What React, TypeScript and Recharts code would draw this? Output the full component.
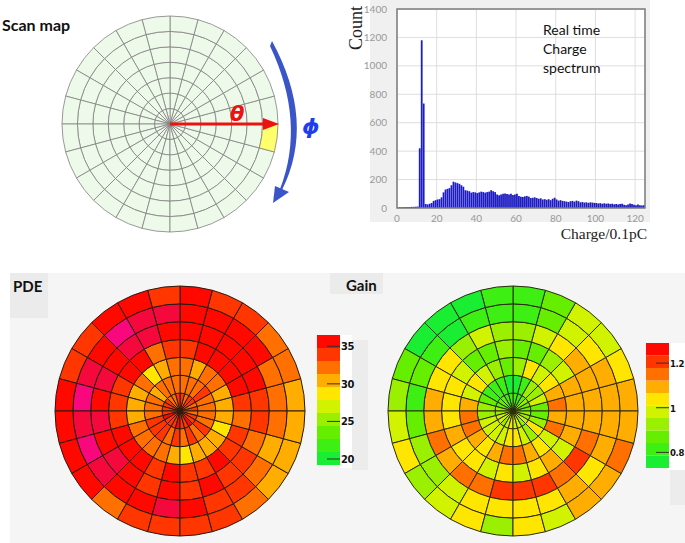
import React from 'react'
import { PieChart, Pie, Cell, BarChart, Bar, XAxis, YAxis, CartesianGrid } from 'recharts'

const RINGS = 7

// charge spectrum, one count per 0.1pC bin, bins 0..124
const chargeCounts = [
  4, 5, 5, 6, 6, 7, 7, 8, 8, 9, 10, 420, 1180, 735, 28, 25, 30, 35, 50, 55,
  60, 62, 75, 110, 130, 135, 140, 160, 185, 180, 175, 170, 160, 150, 125, 122, 118, 108, 112, 110,
  105, 110, 115, 112, 108, 112, 115, 125, 118, 112, 95, 90, 95, 100, 102, 98, 95, 100, 92, 95,
  100, 85, 80, 78, 82, 85, 80, 70, 72, 75, 70, 65, 68, 60, 62, 58, 62, 55, 65, 72,
  60, 52, 55, 50, 48, 45, 42, 48, 50, 45, 52, 48, 40, 42, 38, 40, 36, 40, 38, 36,
  35, 32, 34, 30, 33, 30, 32, 28, 30, 26, 28, 25, 28, 30, 22, 20, 25, 32, 28, 22,
  20, 25, 20, 18, 20,
]
const chargeTicks = [0, 20, 40, 60, 80, 100, 120]
const countTicks = [0, 200, 400, 600, 800, 1000, 1200, 1400]

// PDE (%) per pixel, rings from centre outwards, sectors counter-clockwise from 3 o'clock
const pdeRing0 = [33.9, 32.2, 33.9, 33.9, 32.2, 33.9, 33.9, 32.2, 32.2, 33.9, 33.9, 33.9, 33.9, 35.6, 33.9, 33.9, 33.9, 35.6, 33.9, 33.9, 35.6, 33.9, 33.9, 32.2]
const pdeRing1 = [32.2, 32.2, 33.9, 32.2, 32.2, 32.2, 32.2, 32.2, 32.2, 30.4, 32.2, 32.2, 32.2, 33.9, 33.9, 33.9, 32.2, 33.9, 32.2, 33.9, 32.2, 33.9, 32.2, 32.2]
const pdeRing2 = [30.4, 30.4, 32.2, 32.2, 30.4, 32.2, 32.2, 30.4, 28.7, 32.2, 30.4, 30.4, 30.4, 32.2, 32.2, 32.2, 32.2, 30.4, 28.7, 30.4, 30.4, 30.4, 28.7, 30.4]
const pdeRing3 = [33.9, 35.6, 35.6, 35.6, 35.6, 33.9, 33.9, 32.2, 35.6, 35.6, 33.9, 33.9, 33.9, 35.6, 35.6, 35.6, 33.9, 35.6, 33.9, 33.9, 35.6, 33.9, 33.9, 32.2]
const pdeRing4 = [33.9, 35.6, 35.6, 35.6, 35.6, 35.6, 35.6, 37.3, 37.3, 35.6, 37.3, 35.6, 37.3, 35.6, 37.3, 35.6, 33.9, 35.6, 33.9, 35.6, 33.9, 33.9, 32.2, 33.9]
const pdeRing5 = [32.2, 32.2, 35.6, 35.6, 35.6, 35.6, 37.3, 37.3, 39.0, 35.6, 37.3, 39.0, 37.3, 39.0, 37.3, 35.6, 35.6, 37.3, 35.6, 33.9, 33.9, 32.2, 30.4, 32.2]
const pdeRing6 = [30.4, 32.2, 32.2, 33.9, 33.9, 35.6, 33.9, 35.6, 35.6, 33.9, 33.9, 35.6, 35.6, 35.6, 35.6, 32.2, 33.9, 33.9, 33.9, 33.9, 32.2, 30.4, 30.4, 30.4]

// relative gain per pixel, same layout
const gainRing0 = [0.87, 0.87, 0.93, 0.87, 0.81, 0.81, 0.81, 0.81, 0.87, 0.87, 0.87, 0.93, 0.93, 0.98, 0.98, 0.93, 0.98, 1.04, 0.98, 0.98, 0.93, 0.98, 0.93, 0.93]
const gainRing1 = [0.87, 0.98, 0.93, 0.93, 0.81, 0.76, 0.76, 0.81, 0.81, 0.81, 0.87, 0.93, 0.93, 0.98, 0.98, 0.98, 0.98, 1.04, 1.04, 0.98, 0.93, 1.04, 0.93, 0.87]
const gainRing2 = [1.15, 1.09, 1.04, 0.98, 1.04, 0.93, 0.87, 0.93, 0.98, 1.04, 0.98, 1.09, 1.15, 1.15, 1.09, 1.04, 1.09, 1.15, 1.15, 1.09, 1.04, 0.98, 1.15, 1.09]
const gainRing3 = [1.09, 1.09, 0.98, 0.93, 0.87, 0.87, 0.93, 0.87, 0.87, 0.98, 1.04, 1.04, 1.04, 1.09, 1.04, 1.04, 0.98, 1.04, 0.98, 1.04, 1.09, 0.98, 1.09, 1.09]
const gainRing4 = [1.09, 1.09, 1.09, 1.04, 0.98, 0.93, 0.93, 0.98, 0.93, 1.04, 1.04, 1.09, 1.09, 1.15, 1.09, 1.15, 1.15, 1.21, 1.21, 1.21, 1.15, 1.21, 1.15, 1.09]
const gainRing5 = [1.09, 1.09, 1.04, 0.98, 0.87, 0.81, 0.81, 0.81, 0.76, 0.81, 0.87, 0.81, 0.87, 0.93, 0.93, 0.98, 1.04, 1.04, 1.04, 1.04, 1.09, 1.04, 1.09, 1.09]
const gainRing6 = [1.09, 1.04, 0.98, 0.98, 0.87, 0.81, 0.81, 0.76, 0.76, 0.76, 0.87, 0.93, 0.98, 1.04, 0.93, 0.98, 1.04, 0.93, 1.04, 0.98, 1.09, 1.09, 1.15, 1.09]

// scan map: 24 equal sectors per ring, one pixel highlighted
const scanSectors = [1, 1, 1, 1, 1, 1, 1, 1, 1, 1, 1, 1, 1, 1, 1, 1, 1, 1, 1, 1, 1, 1, 1, 1]
const scanHighlight = { ring: 6, sector: 23 }

const pdeTicks = [20, 25, 30, 35]
const gainTicks = [0.8, 1, 1.2]

const palette = ['#1aee33', '#3def12', '#66ee00', '#9bef00', '#d2f300', '#ffe600', '#ffae00', '#ff7000', '#ff3600', '#ff0800', '#f5083c', '#f8087c']
const pdeScale = { min: 19.2, step: 1.73 }
const gainScale = { min: 0.73, step: 0.056 }

function colorOf(v: number, s: { min: number; step: number }) {
  const k = Math.floor((v - s.min) / s.step)
  return palette[Math.max(0, Math.min(palette.length - 1, k))]
}

function PolarMap({ rings, fillOf, radius, stroke, strokeWidth }: any) {
  const size = radius * 2 + 6
  const c = size / 2
  return (
    <PieChart width={size} height={size} margin={{ top: 0, right: 0, bottom: 0, left: 0 }}>
      {rings.map((ring: number[], r: number) => (
        <Pie
          key={r}
          data={ring.map((v, i) => ({ id: i, size: 1, v }))}
          dataKey="size"
          cx={c}
          cy={c}
          innerRadius={(radius * r) / RINGS}
          outerRadius={(radius * (r + 1)) / RINGS}
          startAngle={0}
          endAngle={360}
          stroke={stroke}
          strokeWidth={strokeWidth}
          isAnimationActive={false}
        >
          {ring.map((v, i) => (
            <Cell key={i} fill={fillOf(v, r, i)} />
          ))}
        </Pie>
      ))}
    </PieChart>
  )
}

function ColorBar({ scale, ticks, height, labelSize }: any) {
  const row: any = { name: 'bar', base: scale.min }
  palette.slice(0, 10).forEach((_, k) => (row['b' + k] = scale.step))
  const max = scale.min + scale.step * 10
  const Tick = (p: any) => (
    <g>
      <line x1={p.x - 13} x2={p.x} y1={p.y} y2={p.y} stroke="#333" strokeWidth={1} />
      <text x={p.x + 1} y={p.y + 4} fontSize={labelSize} fontWeight={700} fontFamily="'Liberation Sans Narrow', 'DejaVu Sans Condensed', 'Liberation Sans', sans-serif" fill="#111" letterSpacing={-0.4}>
        {p.payload.value}
      </text>
    </g>
  )
  return (
    <BarChart width={53} height={height} data={[row]} margin={{ top: 0, right: 0, bottom: 0, left: 0 }} barCategoryGap={0}>
      <XAxis dataKey="name" hide />
      <YAxis orientation="right" width={30} domain={[scale.min, max]} ticks={ticks} interval={0} allowDataOverflow axisLine={false} tickLine={false} tickSize={0} tickMargin={0} tick={<Tick />} />
      <Bar dataKey="base" stackId="c" fill="transparent" isAnimationActive={false} />
      {palette.slice(0, 10).map((col, k) => (
        <Bar key={k} dataKey={'b' + k} stackId="c" fill={col} isAnimationActive={false} />
      ))}
    </BarChart>
  )
}

const abs = (left: number, top: number, extra: any = {}) => ({ position: 'absolute' as const, left, top, ...extra })

export default function App() {
  const histData = chargeCounts.map((n, i) => ({ x: i + 0.5, n }))
  const pdeRings = [pdeRing0, pdeRing1, pdeRing2, pdeRing3, pdeRing4, pdeRing5, pdeRing6]
  const gainRings = [gainRing0, gainRing1, gainRing2, gainRing3, gainRing4, gainRing5, gainRing6]
  const scanRings = [0, 1, 2, 3, 4, 5, 6].map(() => scanSectors)
  const sans = "Lato, 'Open Sans', sans-serif"
  const serif = "'Liberation Serif', 'Times New Roman', serif"

  return (
    <div style={{ position: 'absolute', left: 0, top: 0, width: 685, height: 543, background: '#fff', overflow: 'hidden', fontFamily: sans }}>
      {/* bottom panels background */}
      <div style={abs(10, 273, { width: 675, height: 270, background: '#f5f5f5' })} />
      <div style={abs(10, 273, { width: 38, height: 45, background: '#ebebeb' })} />
      <div style={abs(330, 273, { width: 53, height: 21, background: '#ebebeb' })} />
      <div style={abs(340, 335, { width: 12, height: 133, background: '#fff' })} />
      <div style={abs(352, 340, { width: 16, height: 130, background: '#ececec' })} />
      <div style={abs(668, 343, { width: 17, height: 127, background: '#fff' })} />
      <div style={abs(670, 470, { width: 15, height: 35, background: '#ececec' })} />

      {/* histogram panel background */}
      <div style={abs(370, 0, { width: 280, height: 222, background: '#f0f0f0' })} />

      {/* scan map */}
      <div style={{ ...abs(2, 15), fontSize: 16, fontWeight: 700, color: '#111' }}>Scan map</div>
      <div style={abs(170 - 111, 124 - 111)}>
        <PolarMap
          rings={scanRings}
          radius={108}
          stroke="#808080"
          strokeWidth={0.8}
          fillOf={(_v: number, r: number, i: number) => (r === scanHighlight.ring && i === scanHighlight.sector ? '#ffff6e' : '#eefae9')}
        />
      </div>
      <svg width={685} height={250} style={abs(0, 0, { pointerEvents: 'none' })}>
        <line x1={170} y1={124} x2={266} y2={124} stroke="#ee1111" strokeWidth={3} />
        <polygon points="263,118 279,124 263,130" fill="#ee1111" />
        <text x={230} y={121} fill="#ee1111" fontSize={21} fontStyle="italic" fontWeight={700} fontFamily="'DejaVu Sans', sans-serif">θ</text>
        <path d="M272,41 Q316,122 282,190 L280,189 Q306,122 270,46 Z" fill="#3a55c8" />
        <polygon points="273,203 275,186 289,192" fill="#3a55c8" />
        <text x={302} y={134} fill="#1e3cf0" fontSize={22} fontStyle="italic" fontWeight={700} fontFamily="'DejaVu Sans', sans-serif">ϕ</text>
      </svg>

      {/* charge spectrum */}
      <div style={abs(340, 0)}>
        <BarChart width={315} height={230} data={histData} margin={{ top: 9, right: 10, bottom: 4, left: 17 }}>
          <CartesianGrid stroke="#dedede" fill="#fff" />
          <XAxis type="number" dataKey="x" domain={[0, 125]} ticks={chargeTicks} height={18} axisLine={false} tickLine={false} tick={{ fill: '#999', fontSize: 10 }} tickMargin={1} />
          <YAxis type="number" domain={[0, 1400]} ticks={countTicks} width={40} axisLine={false} tickLine={false} tick={{ fill: '#999', fontSize: 10 }} tickMargin={4} />
          <Bar dataKey="n" fill="#1c1cc2" barSize={2.2} isAnimationActive={false} />
        </BarChart>
      </div>
      <svg width={685} height={250} style={abs(0, 0, { pointerEvents: 'none' })}>
        <rect x={397} y={9} width={248} height={199} fill="none" stroke="#7c7c7c" strokeWidth={1.5} />
        <text transform="translate(362,28) rotate(-90)" textAnchor="middle" fontSize={18} fontFamily={serif} fill="#222">Count</text>
        <text x={647} y={239} textAnchor="end" fontSize={15.5} fontFamily={serif} fill="#222">Charge/0.1pC</text>
        <text x={543} y={35} fontSize={14} fontFamily={sans} fill="#111">Real time</text>
        <text x={543} y={54} fontSize={14} fontFamily={sans} fill="#111">Charge</text>
        <text x={543} y={73} fontSize={14} fontFamily={sans} fill="#111">spectrum</text>
      </svg>

      {/* PDE map */}
      <div style={{ ...abs(13, 277), fontSize: 15, fontWeight: 700, color: '#111' }}>PDE</div>
      <div style={abs(180 - 128, 411 - 128)}>
        <PolarMap rings={pdeRings} radius={125} stroke="#2a1a10" strokeWidth={1} fillOf={(v: number) => colorOf(v, pdeScale)} />
      </div>
      <div style={abs(317, 335)}>
        <ColorBar scale={pdeScale} ticks={pdeTicks} height={130} labelSize={11} />
      </div>

      {/* Gain map */}
      <div style={{ ...abs(346, 276), fontSize: 15, fontWeight: 700, color: '#111' }}>Gain</div>
      <div style={abs(513 - 128, 411 - 128)}>
        <PolarMap rings={gainRings} radius={125} stroke="#2a2a10" strokeWidth={1} fillOf={(v: number) => colorOf(v, gainScale)} />
      </div>
      <div style={abs(646, 343)}>
        <ColorBar scale={gainScale} ticks={gainTicks} height={125} labelSize={9.5} />
      </div>
    </div>
  )
}
